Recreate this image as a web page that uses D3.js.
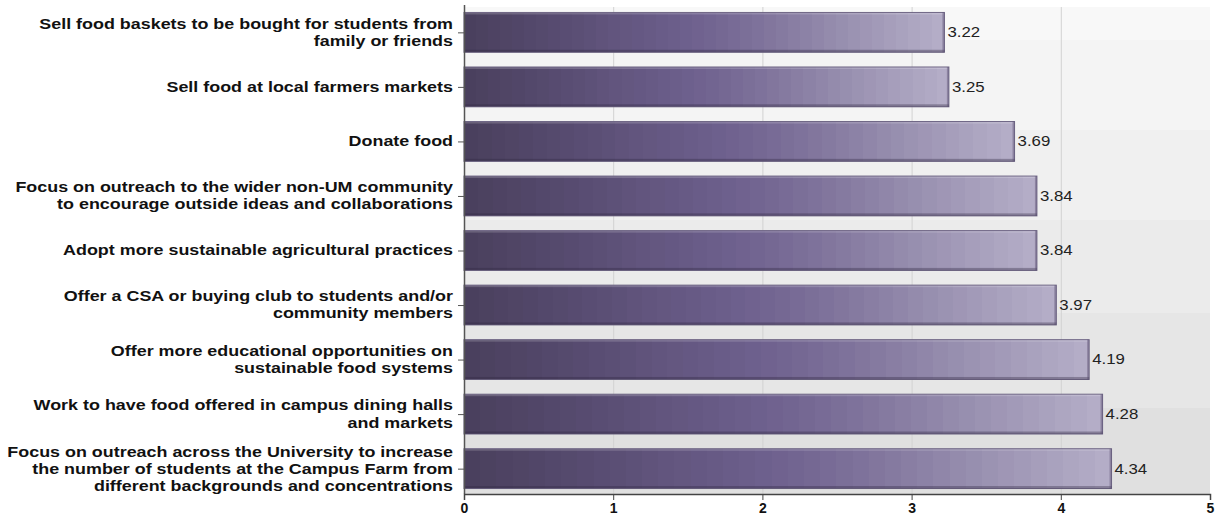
<!DOCTYPE html>
<html>
<head>
<meta charset="utf-8">
<script src="https://cdn.jsdelivr.net/npm/d3@7"></script>
<style>
  html, body { margin: 0; padding: 0; background: #ffffff; }
  svg { display: block; }
</style>
</head>
<body>
<svg id="chart" width="1217" height="517"></svg>
<script>
// Survey priorities for the Campus Farm, mean rating (0–5 scale)
const categories = [
  ["Sell food baskets to be bought for students from", "family or friends"],
  ["Sell food at local farmers markets"],
  ["Donate food"],
  ["Focus on outreach to the wider non-UM community", "to encourage outside ideas and collaborations"],
  ["Adopt more sustainable agricultural practices"],
  ["Offer a CSA or buying club to students and/or", "community members"],
  ["Offer more educational opportunities on", "sustainable food systems"],
  ["Work to have food offered in campus dining halls", "and markets"],
  ["Focus on outreach across the University to increase", "the number of students at the Campus Farm from", "different backgrounds and concentrations"]
];
const values = [3.22, 3.25, 3.69, 3.84, 3.84, 3.97, 4.19, 4.28, 4.34];
const xTicks = [0, 1, 2, 3, 4, 5];

const svg = d3.select("#chart");
const plot = { left: 464, right: 1210, top: 7, bottom: 494 };
const textStretch = 1.28;   // wide lettering used for the labels

const x = d3.scaleLinear().domain([0, 5]).range([plot.left, plot.right]);
const y = d3.scaleBand()
  .domain(d3.range(values.length))
  .range([plot.top, plot.bottom])
  .paddingInner(0.27)
  .paddingOuter(0.1);

const defs = svg.append("defs");

// Plot background: stepped vertical grey fade
const bgSteps = [
  [0.000, "#f8f8f8"], [0.068, "#f8f8f8"],
  [0.068, "#f4f4f4"], [0.253, "#f4f4f4"],
  [0.253, "#f0f0f0"], [0.438, "#f0f0f0"],
  [0.438, "#ebebeb"], [0.629, "#ebebeb"],
  [0.629, "#e6e6e6"], [0.823, "#e6e6e6"],
  [0.823, "#e0e0e0"], [1.000, "#e0e0e0"]
];
const bg = defs.append("linearGradient").attr("id", "bgFade")
  .attr("x1", 0).attr("y1", 0).attr("x2", 0).attr("y2", 1);
bg.selectAll("stop").data(bgSteps).join("stop")
  .attr("offset", d => d[0]).attr("stop-color", d => d[1]);

// Bar fill: dark plum to pale lavender, rendered in fine bands
const barKeys = ["#4a405e", "#564a6e", "#645781", "#6f6190", "#857a9f", "#9d95b4", "#b4adc7"];
const barInterp = d3.interpolateRgbBasis(barKeys);
const nBands = 40;
const barStops = [];
for (let i = 0; i < nBands; i++) {
  const c = barInterp(i / (nBands - 1));
  barStops.push([i / nBands, c], [(i + 1) / nBands, c]);
}
const bg2 = defs.append("linearGradient").attr("id", "barFill")
  .attr("x1", 0).attr("y1", 0).attr("x2", 1).attr("y2", 0);
bg2.selectAll("stop").data(barStops).join("stop")
  .attr("offset", d => d[0]).attr("stop-color", d => d[1]);

svg.append("rect")
  .attr("x", plot.left).attr("y", plot.top)
  .attr("width", plot.right - plot.left).attr("height", plot.bottom - plot.top)
  .attr("fill", "url(#bgFade)");

// Vertical gridlines
svg.append("g")
  .selectAll("line")
  .data(xTicks.filter(t => t > 0 && t < 5))
  .join("line")
  .attr("x1", d => x(d) + 0.5).attr("x2", d => x(d) + 0.5)
  .attr("y1", plot.top).attr("y2", plot.bottom)
  .attr("stroke", "#d2d2d2").attr("stroke-width", 1);

// Bars
const bars = svg.append("g");
bars.selectAll("rect.bar")
  .data(values)
  .join("rect")
  .attr("class", "bar")
  .attr("x", x(0))
  .attr("y", (d, i) => y(i))
  .attr("width", d => x(d) - x(0))
  .attr("height", y.bandwidth())
  .attr("fill", "url(#barFill)")
  .attr("stroke", "#6f6685")
  .attr("stroke-width", 1);

// Bevel: lighter top edge, darker lower and right edges
bars.selectAll("rect.hi")
  .data(values)
  .join("rect")
  .attr("class", "hi")
  .attr("x", x(0) + 1)
  .attr("y", (d, i) => y(i) + 0.5)
  .attr("width", d => x(d) - x(0) - 2)
  .attr("height", 1.5)
  .attr("fill", "#ffffff").attr("opacity", 0.18);
bars.selectAll("rect.sh")
  .data(values)
  .join("rect")
  .attr("class", "sh")
  .attr("x", x(0))
  .attr("y", (d, i) => y(i) + y.bandwidth() - 2.5)
  .attr("width", d => x(d) - x(0))
  .attr("height", 2.5)
  .attr("fill", "#2e2640").attr("opacity", 0.35);
bars.selectAll("rect.rs")
  .data(values)
  .join("rect")
  .attr("class", "rs")
  .attr("x", d => x(d) - 2)
  .attr("y", (d, i) => y(i))
  .attr("width", 2)
  .attr("height", y.bandwidth())
  .attr("fill", "#5a5070").attr("opacity", 0.45);

// Value labels
svg.append("g")
  .selectAll("text")
  .data(values)
  .join("text")
  .attr("transform", (d, i) => `translate(${x(d) + 3},${y(i) + y.bandwidth() / 2}) scale(1.2,1)`)
  .attr("dy", "0.35em")
  .attr("font-family", "Liberation Sans, Arial, sans-serif")
  .attr("font-size", 14)
  .attr("fill", "#222222")
  .text(d => d.toFixed(2));

// Left axis line and ticks
const yAxis = svg.append("g");
yAxis.append("line")
  .attr("x1", plot.left + 0.5).attr("x2", plot.left + 0.5)
  .attr("y1", plot.top - 2).attr("y2", plot.bottom)
  .attr("stroke", "#555555").attr("stroke-width", 1.5);
yAxis.selectAll("line.tick")
  .data(values)
  .join("line")
  .attr("class", "tick")
  .attr("x1", plot.left - 6).attr("x2", plot.left)
  .attr("y1", (d, i) => y(i) + y.bandwidth() / 2 + 0.5)
  .attr("y2", (d, i) => y(i) + y.bandwidth() / 2 + 0.5)
  .attr("stroke", "#555555");

// Category labels, right-aligned, multi-line
const lineH = 17;
const labelGroup = yAxis.append("g")
  .attr("transform", `translate(${plot.left - 11},0) scale(${textStretch},1)`);
const labels = labelGroup.selectAll("text.cat")
  .data(categories)
  .join("text")
  .attr("class", "cat")
  .attr("text-anchor", "end")
  .attr("font-family", "Liberation Sans, Arial, sans-serif")
  .attr("font-weight", "bold")
  .attr("font-size", 14)
  .attr("fill", "#111111");
labels.each(function (lines, i) {
  const cy = y(i) + y.bandwidth() / 2;
  const y0 = cy - (lines.length - 1) * lineH / 2;
  d3.select(this).selectAll("tspan")
    .data(lines)
    .join("tspan")
    .attr("x", 0)
    .attr("y", (l, k) => y0 + k * lineH)
    .attr("dy", "0.35em")
    .text(l => l);
});

// Bottom axis
const xAxis = d3.axisBottom(x).tickValues(xTicks).tickSize(6).tickPadding(3).tickFormat(d3.format("d"));
const gx = svg.append("g")
  .attr("transform", `translate(0,${plot.bottom})`)
  .call(xAxis);
gx.select(".domain").attr("stroke", "#444444").attr("stroke-width", 1.5);
gx.selectAll(".tick line").attr("stroke", "#444444");
gx.selectAll(".tick text")
  .attr("font-family", "Liberation Sans Narrow, Liberation Sans, Arial, sans-serif")
  .attr("font-weight", "bold")
  .attr("font-size", 14)
  .attr("fill", "#111111");
</script>
</body>
</html>
